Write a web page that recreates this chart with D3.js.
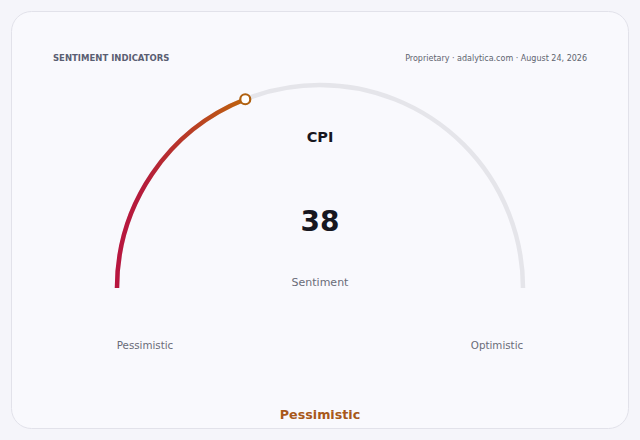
<!DOCTYPE html>
<html>
<head>
<meta charset="utf-8">
<script src="https://cdn.jsdelivr.net/npm/d3@7"></script>
<style>
  html, body { margin: 0; padding: 0; background: #f5f5fa; }
  body { width: 640px; height: 440px; overflow: hidden; font-family: "DejaVu Sans", sans-serif; }
</style>
</head>
<body>
<script>
// chart values
const indicator = "CPI";
const value = 38;
const domain = [0, 100];
const ends = ["Pessimistic", "Optimistic"];
const verdict = "Pessimistic";
const title = "SENTIMENT INDICATORS";
const source = "Proprietary · adalytica.com · August 24, 2026";

const width = 640, height = 440;
const svg = d3.select("body").append("svg")
    .attr("width", width)
    .attr("height", height);

// card
svg.append("rect")
    .attr("x", 11.5).attr("y", 11.5)
    .attr("width", 617).attr("height", 417)
    .attr("rx", 20)
    .attr("fill", "#f9f9fd")
    .attr("stroke", "#e2e2ea");

svg.append("text")
    .attr("x", 53).attr("y", 60.5)
    .attr("font-size", 8.5).attr("font-weight", "bold")
    .attr("fill", "#5a5e72")
    .text(title);

svg.append("text")
    .attr("x", 587).attr("y", 60.5)
    .attr("text-anchor", "end")
    .attr("font-size", 8)
    .attr("fill", "#60646f")
    .text(source);

// gauge
const cx = 320, cy = 288, r = 203;
const angle = d3.scaleLinear().domain(domain).range([-Math.PI / 2, Math.PI / 2]);

const g = svg.append("g").attr("transform", `translate(${cx},${cy})`);

const arc = d3.arc()
    .innerRadius(r)
    .outerRadius(r)
    .startAngle(d => d[0])
    .endAngle(d => d[1]);

g.append("path")
    .attr("d", arc([angle(domain[0]), angle(domain[1])]))
    .attr("fill", "none")
    .attr("stroke", "#e5e5ea")
    .attr("stroke-width", 4.5)
    .attr("stroke-linecap", "round");

// gradient along the filled part (coords are in the gauge group's space)
const pEnd = [r * Math.sin(angle(value)), -r * Math.cos(angle(value))];
const grad = svg.append("defs").append("linearGradient")
    .attr("id", "fillGrad")
    .attr("gradientUnits", "userSpaceOnUse")
    .attr("x1", -r).attr("y1", 0)
    .attr("x2", pEnd[0]).attr("y2", 0);
grad.append("stop").attr("offset", "0%").attr("stop-color", "#b8163f");
grad.append("stop").attr("offset", "22%").attr("stop-color", "#b51d3a");
grad.append("stop").attr("offset", "100%").attr("stop-color", "#bf640d");

g.append("path")
    .attr("d", arc([angle(domain[0]), angle(value)]))
    .attr("fill", "none")
    .attr("stroke", "url(#fillGrad)")
    .attr("stroke-width", 4.5)
    .attr("stroke-linecap", "round");

g.append("circle")
    .attr("cx", pEnd[0]).attr("cy", pEnd[1])
    .attr("r", 5)
    .attr("fill", "#ffffff")
    .attr("stroke", "#b0600f")
    .attr("stroke-width", 2.2);

// center labels
svg.append("text")
    .attr("x", cx).attr("y", 142)
    .attr("text-anchor", "middle")
    .attr("font-size", 14.5).attr("font-weight", "bold")
    .attr("fill", "#17171f")
    .text(indicator);

svg.append("text")
    .attr("x", cx).attr("y", 231)
    .attr("text-anchor", "middle")
    .attr("font-size", 28).attr("font-weight", "bold")
    .attr("fill", "#17171f")
    .text(value);

svg.append("text")
    .attr("x", cx).attr("y", 285.5)
    .attr("text-anchor", "middle")
    .attr("font-size", 11)
    .attr("fill", "#6a6c78")
    .text("Sentiment");

svg.append("text")
    .attr("x", 145).attr("y", 349)
    .attr("text-anchor", "middle")
    .attr("font-size", 10.3)
    .attr("fill", "#6a6c78")
    .text(ends[0]);

svg.append("text")
    .attr("x", 497).attr("y", 349)
    .attr("text-anchor", "middle")
    .attr("font-size", 10.3)
    .attr("fill", "#6a6c78")
    .text(ends[1]);

svg.append("text")
    .attr("x", cx).attr("y", 419)
    .attr("text-anchor", "middle")
    .attr("font-size", 12.7).attr("font-weight", "bold")
    .attr("fill", "#a8581a")
    .text(verdict);
</script>
</body>
</html>
